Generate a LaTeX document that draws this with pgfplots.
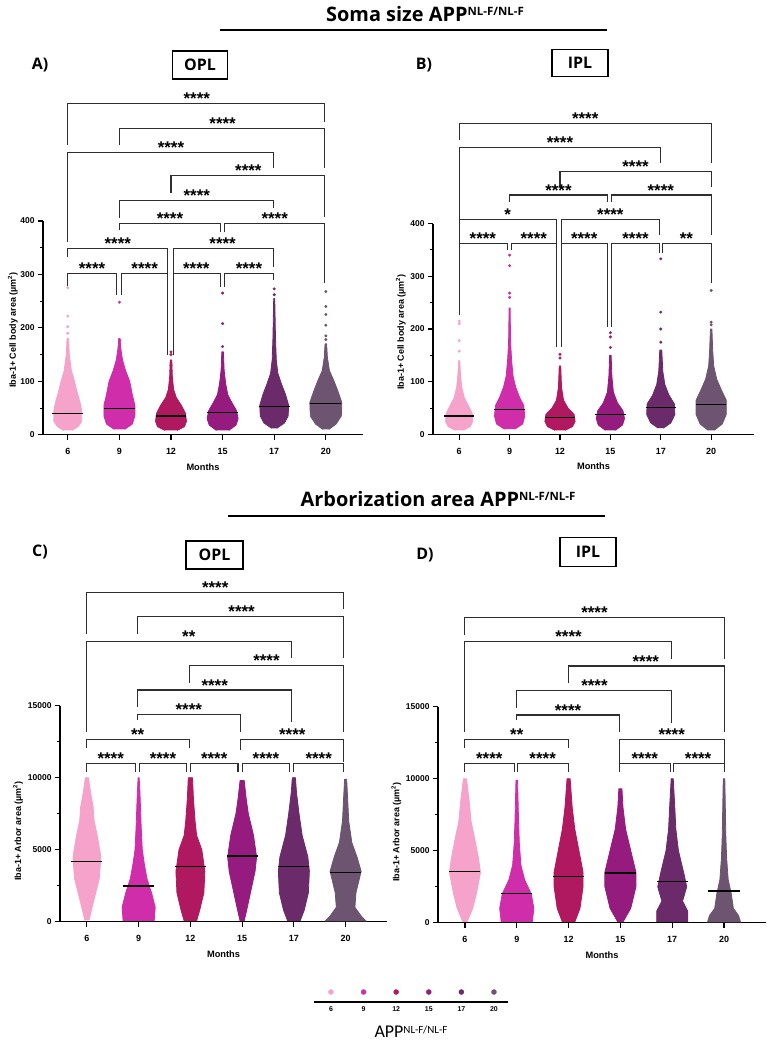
\documentclass[border=0pt]{standalone}
\usepackage{fontspec}
\setmainfont{Liberation Sans}
\newfontfamily\carlito{Carlito}
\newfontfamily\osans{Open Sans}
\usepackage{pgfplots}
\pgfplotsset{compat=1.18}
\definecolor{c6}{HTML}{F6A3CB}
\definecolor{c9}{HTML}{CF2DA9}
\definecolor{c12}{HTML}{B0185F}
\definecolor{c15}{HTML}{951B7E}
\definecolor{c17}{HTML}{6B2A69}
\definecolor{c20}{HTML}{6D5470}
\tikzset{
  brk/.style={line width=1.05bp, black!82, mark=none},
  stars/.style={font=\bfseries\fontsize{17}{17}\selectfont, anchor=base, inner sep=0pt, yshift=-1bp},
  medl/.style={black, line width=1.2bp},
  swarm/.style={fill=#1, draw=#1, line width=0.8bp, line join=round},
  outl/.style={only marks, mark=*, mark size=1.3bp, color=#1},
  hdr/.style={font=\osans\bfseries\fontsize{20}{22}\selectfont, anchor=base},
  plet/.style={font=\osans\bfseries\fontsize{16}{16}\selectfont},
  pbox/.style={draw, line width=1.5bp, inner sep=0pt, font=\osans\bfseries\fontsize{16}{16}\selectfont},
}
\pgfplotsset{
  prism/.style={
    scale only axis,
    axis x line*=bottom, axis y line*=left,
    axis line style={line width=1.3bp, -},
    tick align=outside,
    major tick length=5bp, minor tick length=3bp,
    major tick style={line width=1.1bp, black},
    minor tick style={line width=0.9bp, black},
    xtick={0,1,2,3,4,5}, xticklabels={6,9,12,15,17,20},
    x tick label style={font=\bfseries\fontsize{9}{10}\selectfont, yshift=-5bp},
    y tick label style={font=\bfseries\fontsize{8.5}{10}\selectfont},
    scaled y ticks=false,
    /pgf/number format/assume math mode=true,
    /pgf/number format/1000 sep={},
    xlabel={Months},
    xlabel style={font=\bfseries\fontsize{9.3}{10}\selectfont, yshift=-2bp},
    ylabel style={font=\bfseries\fontsize{9}{10}\selectfont, anchor=center},
    minor y tick num=1,
    clip=false, ymin=0,
  }
}
\newcommand{\br}[5]{\addplot[brk] coordinates {(#1,#4) (#1,#3) (#2,#3) (#2,#5)};}
\newcommand{\st}[3]{\node[stars] at (axis cs:#1,#2) {#3};}
\newcommand{\med}[3]{\addplot[medl] coordinates {(#1,#3) (#2,#3)};}
\newcommand{\nlsup}{\raisebox{6bp}{\fontsize{11.5}{11.5}\selectfont NL-F/NL-F}}
\begin{document}
\begin{tikzpicture}
\path[use as bounding box] (0,0) rectangle (767bp,-1043bp);
% headers
\node[hdr] at (425bp,-21.5bp) {Soma size APP\nlsup};
\draw[line width=1.8bp] (220bp,-30bp) -- (607bp,-30bp);
\node[hdr] at (438bp,-506.5bp) {Arborization area APP\nlsup};
\draw[line width=1.8bp] (228bp,-516bp) -- (605bp,-516bp);
\node[plet] at (40bp,-65bp) {A)};
\node[plet] at (424bp,-65bp) {B)};
\node[plet] at (40bp,-552bp) {C)};
\node[plet] at (425bp,-555bp) {D)};
\node[pbox, minimum width=55bp, minimum height=28bp] at (200bp,-65bp) {OPL};
\node[pbox, minimum width=56bp, minimum height=27bp] at (580bp,-63bp) {IPL};
\node[pbox, minimum width=57bp, minimum height=28bp] at (214.5bp,-555bp) {OPL};
\node[pbox, minimum width=56bp, minimum height=29bp] at (588bp,-552bp) {IPL};

% ---------------- Panel A
\begin{axis}[prism, at={(43bp,-434.7bp)}, anchor=south west, width=320bp, height=213.7bp,
  xmin=-0.48, xmax=5.72, ymax=400, ytick={0,100,200,300,400},
  ylabel={Iba-1+ Cell body area (µm\textsuperscript{2})},
  ylabel style={at={(axis description cs:-0.094,0.49)}}]
\addplot[swarm=c6] coordinates {(-0.08,8) (-0.2,15) (-0.27,25) (-0.27,45) (-0.24,60) (-0.18,80) (-0.13,100) (-0.07,120) (-0.03,150) (-0.015,180) (0.015,180) (0.03,150) (0.07,120) (0.13,100) (0.18,80) (0.24,60) (0.27,45) (0.27,25) (0.2,15) (0.08,8)};
\addplot[outl=c6] coordinates {(0,190) (0,202) (0,222) (0,275)};
\addplot[swarm=c9] coordinates {(0.9,10) (0.75,20) (0.7,35) (0.7,55) (0.75,75) (0.8,100) (0.88,120) (0.94,140) (0.97,160) (0.99,180) (1.01,180) (1.03,160) (1.06,140) (1.12,120) (1.2,100) (1.25,75) (1.3,55) (1.3,35) (1.25,20) (1.1,10)};
\addplot[outl=c9] coordinates {(1,175) (1,178) (1,248)};
\addplot[swarm=c12] coordinates {(1.88,8) (1.74,15) (1.7,25) (1.72,40) (1.8,55) (1.9,70) (1.95,85) (1.975,110) (1.985,140) (2.015,140) (2.025,110) (2.05,85) (2.1,70) (2.2,55) (2.28,40) (2.3,25) (2.26,15) (2.12,8)};
\addplot[outl=c12] coordinates {(2,120) (2,130) (2,150) (2,155)};
\addplot[swarm=c15] coordinates {(2.88,8) (2.74,18) (2.7,30) (2.73,45) (2.82,60) (2.9,75) (2.94,95) (2.97,120) (2.985,155) (3.015,155) (3.03,120) (3.06,95) (3.1,75) (3.18,60) (3.27,45) (3.3,30) (3.26,18) (3.12,8)};
\addplot[outl=c15] coordinates {(3,165) (3,208) (3,265)};
\addplot[swarm=c17] coordinates {(3.95,12) (3.8,22) (3.73,35) (3.72,55) (3.78,75) (3.86,95) (3.93,115) (3.96,140) (3.975,180) (3.985,230) (3.99,255) (4.01,255) (4.015,230) (4.025,180) (4.04,140) (4.07,115) (4.14,95) (4.22,75) (4.28,55) (4.27,35) (4.2,22) (4.05,12)};
\addplot[outl=c17] coordinates {(4,262) (4,273)};
\addplot[swarm=c20] coordinates {(4.94,10) (4.8,20) (4.7,35) (4.69,60) (4.76,80) (4.84,100) (4.93,120) (4.97,145) (4.985,170) (5.015,170) (5.03,145) (5.07,120) (5.16,100) (5.24,80) (5.31,60) (5.3,35) (5.2,20) (5.06,10)};
\addplot[outl=c20] coordinates {(5,178) (5,185) (5,205) (5,225) (5,240) (5,268)};
\med{-0.3}{0.3}{40} \med{0.7}{1.3}{49} \med{1.7}{2.3}{35}
\med{2.7}{3.3}{41} \med{3.7}{4.3}{53} \med{4.7}{5.3}{59}
\br{0}{4.98}{620.6}{542.5}{586} \st{2.5}{620.6}{****}
\br{1}{4.98}{573.8}{542.5}{499} \st{3}{573.8}{****}
\br{0}{3.99}{528.8}{361}{499} \st{2}{528.8}{****}
\br{2}{4.98}{484.5}{452.6}{408} \st{3.5}{484.5}{****}
\br{1}{3.99}{438.2}{405.8}{424.5} \st{2.5}{438.2}{****}
\br{1}{2.95}{394.6}{383.3}{380.1} \st{1.98}{394.6}{****}
\br{3.03}{4.98}{394.6}{380.1}{284} \st{4.01}{394.6}{****}
\br{0}{1.94}{349}{332}{149} \st{0.97}{349}{****}
\br{2.04}{3.99}{349}{149}{313} \st{3}{349}{****}
\br{0}{0.95}{302}{278}{261.6} \st{0.47}{302}{****}
\br{1.04}{1.94}{302}{261.6}{149} \st{1.49}{302}{****}
\br{2.04}{2.95}{302}{149}{277} \st{2.49}{302}{****}
\br{3.03}{3.99}{302}{277}{289} \st{3.51}{302}{****}
\end{axis}

% ---------------- Panel B
\begin{axis}[prism, at={(433bp,-434.5bp)}, anchor=south west, width=321bp, height=211bp,
  xmin=-0.52, xmax=5.85, ymax=400, ytick={0,100,200,300,400},
  ylabel={Iba-1+ Cell body area (µm\textsuperscript{2})},
  ylabel style={at={(axis description cs:-0.1,0.486)}}]
\addplot[swarm=c6] coordinates {(-0.08,8) (-0.22,15) (-0.27,25) (-0.26,40) (-0.18,55) (-0.1,70) (-0.05,90) (-0.025,115) (-0.012,140) (0.012,140) (0.025,115) (0.05,90) (0.1,70) (0.18,55) (0.26,40) (0.27,25) (0.22,15) (0.08,8)};
\addplot[outl=c6] coordinates {(0,158) (0,178) (0,210) (0,215)};
\addplot[swarm=c9] coordinates {(0.9,10) (0.74,20) (0.7,35) (0.72,55) (0.8,70) (0.88,90) (0.93,110) (0.96,140) (0.98,175) (0.99,240) (1.01,240) (1.02,175) (1.04,140) (1.07,110) (1.12,90) (1.2,70) (1.28,55) (1.3,35) (1.26,20) (1.1,10)};
\addplot[outl=c9] coordinates {(1,260) (1,268) (1,320) (1,340)};
\addplot[swarm=c12] coordinates {(1.9,8) (1.75,15) (1.7,25) (1.72,38) (1.84,50) (1.93,65) (1.97,90) (1.985,130) (2.015,130) (2.03,90) (2.07,65) (2.16,50) (2.28,38) (2.3,25) (2.25,15) (2.1,8)};
\addplot[outl=c12] coordinates {(2,145) (2,152)};
\addplot[swarm=c15] coordinates {(2.9,8) (2.76,18) (2.72,30) (2.75,45) (2.86,60) (2.94,80) (2.97,110) (2.985,150) (3.015,150) (3.03,110) (3.06,80) (3.14,60) (3.25,45) (3.28,30) (3.24,18) (3.1,8)};
\addplot[outl=c15] coordinates {(3,165) (3,185) (3,193)};
\addplot[swarm=c17] coordinates {(3.95,12) (3.8,22) (3.72,38) (3.73,58) (3.84,75) (3.92,95) (3.96,120) (3.98,160) (4.02,160) (4.04,120) (4.08,95) (4.16,75) (4.27,58) (4.28,38) (4.2,22) (4.05,12)};
\addplot[outl=c17] coordinates {(4,175) (4,200) (4,232) (4,333)};
\addplot[swarm=c20] coordinates {(4.94,8) (4.78,20) (4.7,38) (4.7,65) (4.8,85) (4.89,105) (4.95,130) (4.97,160) (4.985,200) (5.015,200) (5.03,160) (5.05,130) (5.11,105) (5.2,85) (5.3,65) (5.3,38) (5.22,20) (5.06,8)};
\addplot[outl=c20] coordinates {(5,208) (5,213) (5,273)};
\med{-0.3}{0.3}{35} \med{0.7}{1.3}{47} \med{1.7}{2.3}{32}
\med{2.7}{3.3}{38} \med{3.7}{4.3}{51} \med{4.7}{5.3}{56.5}
\br{0}{5}{590}{558}{514.7} \st{2.5}{590}{****}
\br{0}{4}{544.5}{363}{514.7} \st{2}{544.5}{****}
\br{2}{5}{498}{469.8}{468.6} \st{3.5}{498}{****}
\br{1}{2.94}{454}{441}{441} \st{1.97}{454}{****}
\br{3.02}{5}{454}{441}{378} \st{4}{454}{****}
\br{0}{1.93}{408}{363}{166} \st{0.96}{408}{*}
\br{2.03}{3.98}{408}{166}{378} \st{3}{408}{****}
\br{0}{0.95}{362.5}{226.5}{350} \st{0.47}{362.5}{****}
\br{1.03}{1.93}{362.5}{350}{166} \st{1.48}{362.5}{****}
\br{2.03}{2.94}{362.5}{166}{204} \st{2.48}{362.5}{****}
\br{3.02}{3.98}{362.5}{204}{344} \st{3.5}{362.5}{****}
\br{4.03}{5}{362.5}{344}{287} \st{4.51}{362.5}{**}
\end{axis}

% ---------------- Panel C
\begin{axis}[prism, at={(60bp,-921.7bp)}, anchor=south west, width=327bp, height=216bp,
  xmin=-0.52, xmax=5.8, ymax=15000, ytick={0,5000,10000,15000},
  ylabel={Iba-1+ Arbor area (µm\textsuperscript{2})},
  ylabel style={at={(axis description cs:-0.128,0.42)}}]
\addplot[swarm=c6] coordinates {(-0.04,100) (-0.1,1000) (-0.17,2000) (-0.24,3000) (-0.27,4500) (-0.2,6000) (-0.14,7000) (-0.12,8000) (-0.07,9000) (-0.03,10000) (0.03,10000) (0.07,9000) (0.12,8000) (0.14,7000) (0.2,6000) (0.27,4500) (0.24,3000) (0.17,2000) (0.1,1000) (0.04,100)};
\addplot[swarm=c9] coordinates {(0.7,50) (0.68,1000) (0.75,2000) (0.84,3000) (0.89,4000) (0.93,5000) (0.95,6500) (0.965,8000) (0.975,9000) (0.99,10000) (1.01,10000) (1.025,9000) (1.035,8000) (1.05,6500) (1.07,5000) (1.11,4000) (1.16,3000) (1.25,2000) (1.32,1000) (1.3,50)};
\addplot[swarm=c12] coordinates {(1.88,50) (1.82,800) (1.74,2000) (1.72,3500) (1.78,5000) (1.88,6000) (1.91,7000) (1.94,8500) (1.96,10000) (2.04,10000) (2.06,8500) (2.09,7000) (2.12,6000) (2.22,5000) (2.28,3500) (2.26,2000) (2.18,800) (2.12,50)};
\addplot[swarm=c15] coordinates {(2.96,50) (2.9,1000) (2.84,2000) (2.75,3500) (2.72,4500) (2.78,6000) (2.88,7500) (2.92,8500) (2.96,9800) (3.04,9800) (3.08,8500) (3.12,7500) (3.22,6000) (3.28,4500) (3.25,3500) (3.16,2000) (3.1,1000) (3.04,50)};
\addplot[swarm=c17] coordinates {(3.88,50) (3.8,800) (3.72,2000) (3.7,3500) (3.73,4500) (3.84,6000) (3.9,7500) (3.95,9000) (3.97,10000) (4.03,10000) (4.05,9000) (4.1,7500) (4.16,6000) (4.27,4500) (4.3,3500) (4.28,2000) (4.2,800) (4.12,50)};
\addplot[swarm=c20] coordinates {(4.6,30) (4.7,400) (4.82,1000) (4.8,2000) (4.7,3500) (4.78,4500) (4.88,5500) (4.94,7000) (4.96,8500) (4.98,9900) (5.02,9900) (5.04,8500) (5.06,7000) (5.12,5500) (5.22,4500) (5.3,3500) (5.2,2000) (5.18,1000) (5.3,400) (5.4,30)};
\med{-0.3}{0.3}{4200} \med{0.7}{1.3}{2480} \med{1.7}{2.3}{3820}
\med{2.7}{3.3}{4560} \med{3.7}{4.3}{3820} \med{4.7}{5.3}{3430}
\br{0}{4.96}{22847}{19979}{21694} \st{2.48}{22847}{****}
\br{0.97}{4.96}{21180}{19979}{18292} \st{2.99}{21180}{****}
\br{0}{3.96}{19444}{13174}{18292} \st{1.97}{19444}{**}
\br{1.98}{4.96}{17778}{16597}{13174} \st{3.47}{17778}{****}
\br{0.97}{3.96}{16090}{14931}{13889} \st{2.47}{16090}{****}
\br{0.97}{2.97}{14403}{14007}{13174} \st{1.97}{14403}{****}
\br{0}{1.98}{12667}{12042}{12042} \st{0.98}{12667}{**}
\br{2.97}{4.96}{12667}{11930}{11100} \st{3.97}{12667}{****}
\br{0}{0.93}{11000}{10417}{10417} \st{0.46}{11000}{****}
\br{1.01}{1.92}{11000}{10417}{10417} \st{1.47}{11000}{****}
\br{2}{2.92}{11000}{10417}{10417} \st{2.46}{11000}{****}
\br{3}{3.92}{11000}{10417}{10417} \st{3.46}{11000}{****}
\br{4}{4.96}{11000}{10417}{10417} \st{4.48}{11000}{****}
\end{axis}

% ---------------- Panel D
\begin{axis}[prism, at={(438bp,-922.7bp)}, anchor=south west, width=328bp, height=216bp,
  xmin=-0.52, xmax=5.81, ymax=15000, ytick={0,5000,10000,15000},
  ylabel={Iba-1+ Arbor area (µm\textsuperscript{2})},
  ylabel style={at={(axis description cs:-0.127,0.42)}}]
\addplot[swarm=c6] coordinates {(-0.04,50) (-0.15,1000) (-0.22,2000) (-0.3,3500) (-0.26,4500) (-0.18,6000) (-0.12,7000) (-0.08,8500) (-0.03,10000) (0.03,10000) (0.08,8500) (0.12,7000) (0.18,6000) (0.26,4500) (0.3,3500) (0.22,2000) (0.15,1000) (0.04,50)};
\addplot[swarm=c9] coordinates {(0.7,50) (0.67,1000) (0.72,2000) (0.85,3000) (0.92,4000) (0.95,5500) (0.965,7000) (0.975,8500) (0.985,9900) (1.015,9900) (1.025,8500) (1.035,7000) (1.05,5500) (1.08,4000) (1.15,3000) (1.28,2000) (1.33,1000) (1.3,50)};
\addplot[swarm=c12] coordinates {(1.88,50) (1.78,1000) (1.72,2500) (1.72,3500) (1.8,5000) (1.88,6500) (1.93,8000) (1.97,10000) (2.03,10000) (2.07,8000) (2.12,6500) (2.2,5000) (2.28,3500) (2.28,2500) (2.22,1000) (2.12,50)};
\addplot[swarm=c15] coordinates {(2.95,50) (2.8,1000) (2.7,2500) (2.7,3500) (2.8,5000) (2.9,6500) (2.95,8000) (2.97,9300) (3.03,9300) (3.05,8000) (3.1,6500) (3.2,5000) (3.3,3500) (3.3,2500) (3.2,1000) (3.05,50)};
\addplot[swarm=c17] coordinates {(3.7,50) (3.7,800) (3.8,1500) (3.72,2500) (3.78,3500) (3.88,5000) (3.93,6500) (3.95,8000) (3.98,10000) (4.02,10000) (4.05,8000) (4.07,6500) (4.12,5000) (4.22,3500) (4.28,2500) (4.2,1500) (4.3,800) (4.3,50)};
\addplot[swarm=c20] coordinates {(4.68,30) (4.72,500) (4.82,1000) (4.86,2000) (4.92,3000) (4.95,4500) (4.965,6000) (4.975,8000) (4.985,10000) (5.015,10000) (5.025,8000) (5.035,6000) (5.05,4500) (5.08,3000) (5.14,2000) (5.18,1000) (5.28,500) (5.32,30)};
\med{-0.3}{0.3}{3550} \med{0.7}{1.3}{2050} \med{1.7}{2.3}{3190}
\med{2.7}{3.3}{3450} \med{3.7}{4.3}{2850} \med{4.7}{5.3}{2200}
\br{0}{5}{21208}{19979}{18292} \st{2.5}{21208}{****}
\br{0}{3.98}{19514}{13222}{18292} \st{2}{19514}{****}
\br{2}{5}{17826}{16625}{13222} \st{3.49}{17826}{****}
\br{0.99}{3.98}{16111}{14889}{13889} \st{2.5}{16111}{****}
\br{0.99}{2.99}{14424}{14076}{13222} \st{1.99}{14424}{****}
\br{0}{2}{12736}{12111}{12111} \st{1}{12736}{**}
\br{2.99}{5}{12736}{11069}{11069} \st{3.99}{12736}{****}
\br{0}{0.95}{11069}{10486}{10486} \st{0.47}{11069}{****}
\br{1.02}{2}{11069}{10486}{10486} \st{1.5}{11069}{****}
\br{2.99}{3.96}{11069}{10486}{10486} \st{3.47}{11069}{****}
\br{4.03}{5}{11069}{10486}{10486} \st{4.5}{11069}{****}
\end{axis}

% ---------------- Legend
\begin{axis}[scale only axis, at={(314bp,-1002bp)}, anchor=south west, width=194bp, height=20bp,
  xmin=-0.52, xmax=5.43, ymin=0, ymax=1, clip=false,
  axis x line*=bottom, axis y line=none, axis line style={line width=1.5bp, -},
  xtick={0,1,2,3,4,5}, xticklabels={6,9,12,15,17,20}, major tick length=0pt,
  x tick label style={font=\bfseries\fontsize{7}{8}\selectfont, yshift=-1.5bp},
  xlabel={\carlito\fontsize{18}{18}\selectfont APP\raisebox{4.5bp}{\fontsize{11}{11}\selectfont NL-F/NL-F}},
  xlabel style={yshift=-7bp}]
\addplot[only marks, mark=*, mark size=2.5bp, color=c6] coordinates {(0,0.5)};
\addplot[only marks, mark=*, mark size=2.5bp, color=c9] coordinates {(1,0.5)};
\addplot[only marks, mark=*, mark size=2.5bp, color=c12] coordinates {(2,0.5)};
\addplot[only marks, mark=*, mark size=2.5bp, color=c15] coordinates {(3,0.5)};
\addplot[only marks, mark=*, mark size=2.5bp, color=c17] coordinates {(4,0.5)};
\addplot[only marks, mark=*, mark size=2.5bp, color=c20] coordinates {(5,0.5)};
\end{axis}
\end{tikzpicture}
\end{document}
